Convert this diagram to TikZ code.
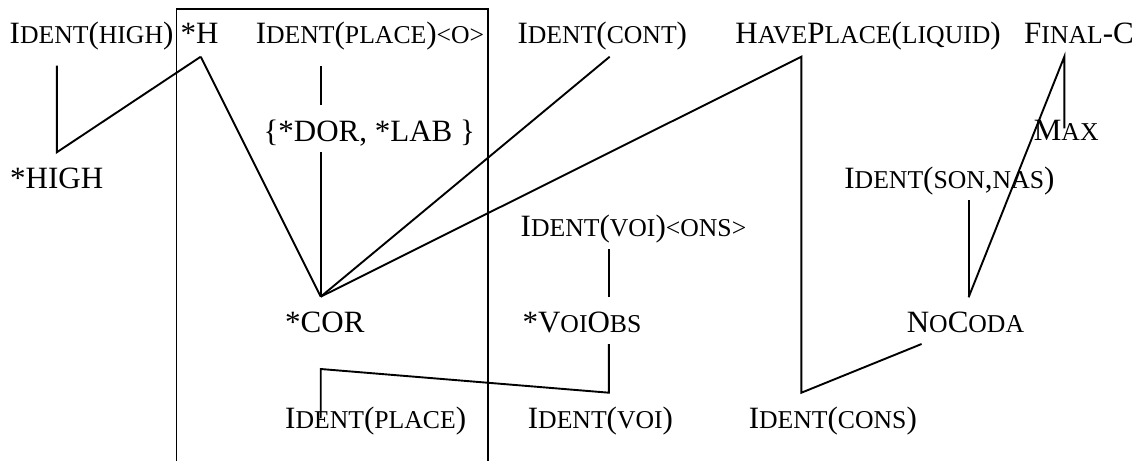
\documentclass[tikz,border=0pt]{standalone}
\usepackage{fontspec}
\setmainfont{Liberation Serif}
\newcommand\sm[1]{{\fontsize{25.7pt}{30pt}\selectfont #1}}
\begin{document}
\begin{tikzpicture}[x=1pt,y=-1pt,
  lbl/.style={anchor=base west,inner sep=0pt,font=\fontsize{31pt}{37pt}\selectfont},
  conn/.style={line width=1.9pt,line join=miter}]
\useasboundingbox (0,0) rectangle (1141,461);
% labels
\node[lbl] (identhigh) at (9.5,43.3) {I\sm{DENT}(\sm{HIGH})};
\node[lbl] (h) at (180.5,43.3) {*H};
\node[lbl] (identplaceo) at (255.6,43.3) {I\sm{DENT}(\sm{PLACE})\sm{<O>}};
\node[lbl] (identcont) at (517.4,43.3) {I\sm{DENT}(\sm{CONT})};
\node[lbl] (haveplace) at (735.2,43.3) {H\sm{AVE}P\sm{LACE}(\sm{LIQUID})};
\node[lbl] (finalc) at (1024,43.3) {F\sm{INAL}-C};
\node[lbl] (dorlab) at (263.3,141.7) {\{*DOR, *LAB \}};
\node[lbl] (max) at (1033.7,140.7) {M\sm{AX}};
\node[lbl] (high) at (10,188.3) {*HIGH};
\node[lbl] (identsonnas) at (844.2,188.3) {I\sm{DENT}(\sm{SON},\sm{NAS})};
\node[lbl] (identvoions) at (520.5,236.7) {I\sm{DENT}(\sm{VOI})\sm{<ONS>}};
\node[lbl] (cor) at (285,332.7) {*COR};
\node[lbl] (voiobs) at (522.4,332.7) {*V\sm{OI}O\sm{BS}};
\node[lbl] (nocoda) at (906.6,332.7) {N\sm{O}C\sm{ODA}};
\node[lbl] (identplace) at (285,428.5) {I\sm{DENT}(\sm{PLACE})};
\node[lbl] (identvoi) at (527.7,428.5) {I\sm{DENT}(\sm{VOI})};
\node[lbl] (identcons) at (748.6,428.5) {I\sm{DENT}(\sm{CONS})};
% connector points
\coordinate (ihTop) at (56.8,65.7);
\coordinate (ihBot) at (56.8,152.3);
\coordinate (hA) at (200.7,56.7);
\coordinate (corA) at (320.7,296.7);
\coordinate (ipoTop) at (320.7,65.7);
\coordinate (ipoBot) at (320.7,105);
\coordinate (dlBot) at (320.7,152.3);
\coordinate (contA) at (609.7,56.7);
\coordinate (hpA) at (801.4,56.7);
\coordinate (hpBot) at (801.4,392.7);
\coordinate (ncA) at (921.6,344);
\coordinate (fcA) at (1064.3,56.7);
\coordinate (fcBot) at (1064.3,128.3);
\coordinate (snTop) at (968.6,200);
\coordinate (snBot) at (968.6,297.3);
\coordinate (voTop) at (608.9,249.3);
\coordinate (voBot) at (608.9,297.3);
\coordinate (vbTop) at (608.9,344);
\coordinate (vbBot) at (608.9,392.7);
\coordinate (ipA) at (320.7,369);
\coordinate (ipB) at (320.7,418);
% box
\draw[conn] (176.5,461) -- (176.5,9) -- (488.3,9) -- (488.3,461);
% connectors
\draw[conn] (ihTop) -- (ihBot) -- (hA);
\draw[conn] (hA) -- (corA);
\draw[conn] (ipoTop) -- (ipoBot);
\draw[conn] (dlBot) -- (corA);
\draw[conn] (contA) -- (corA);
\draw[conn] (corA) -- (hpA) -- (hpBot) -- (ncA);
\draw[conn] (fcBot) -- (fcA) -- (snBot);
\draw[conn] (snTop) -- (snBot);
\draw[conn] (voTop) -- (voBot);
\draw[conn] (vbTop) -- (vbBot) -- (ipA) -- (ipB);
\end{tikzpicture}
\end{document}
